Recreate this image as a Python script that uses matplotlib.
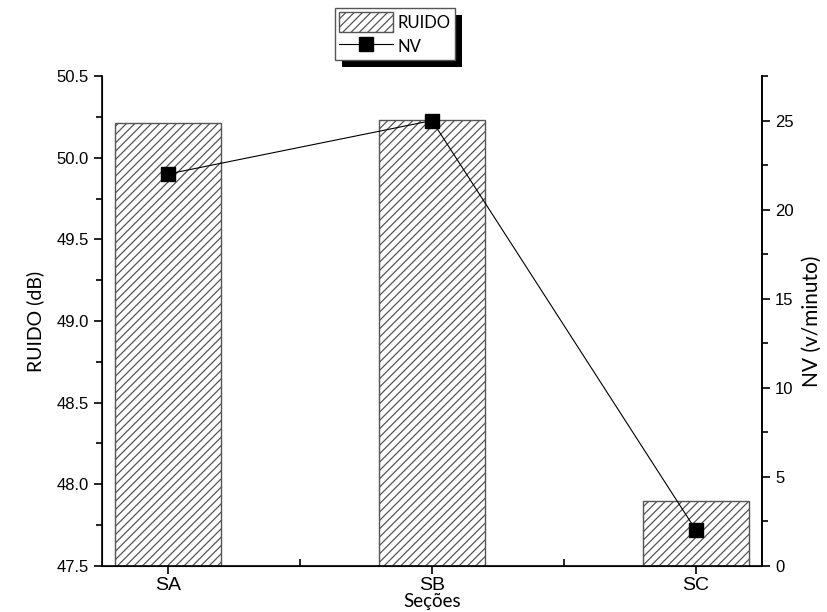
import numpy as np
import matplotlib.pyplot as plt
from matplotlib.patches import Rectangle
from matplotlib.lines import Line2D
from matplotlib.ticker import MultipleLocator

# data
secoes = ["SA", "SB", "SC"]
ruido = [50.21, 50.23, 47.90]
nv = [22, 25, 2]

plt.rcParams['hatch.linewidth'] = 0.9

fig = plt.figure(figsize=(8.27, 6.12), dpi=100)
ax = fig.add_axes([0.1233, 0.0752, 0.7981, 0.8006])
x = np.arange(len(secoes))

bars = ax.bar(x, ruido, width=0.4, bottom=0, color='white', edgecolor='#555555',
              hatch='////', linewidth=1.0)
ax.set_ylim(47.5, 50.5)
ax.set_xlim(-0.25, 2.25)
ax.set_xticks(x)
ax.set_xticklabels(secoes, fontsize=14, family='Liberation Sans')
ax.xaxis.set_minor_locator(MultipleLocator(0.5))
ax.yaxis.set_major_locator(MultipleLocator(0.5))
ax.yaxis.set_minor_locator(MultipleLocator(0.25))
ax.tick_params(axis='y', which='major', labelsize=12, length=6, width=1.2)
ax.tick_params(axis='y', which='minor', length=4, width=1.2)
ax.tick_params(axis='x', which='major', length=6, width=1.2, pad=2)
ax.tick_params(axis='x', which='minor', direction='in', length=5, width=1.2)
for lab in ax.get_yticklabels():
    lab.set_family('Liberation Sans')
ax.set_ylabel("RUIDO (dB)", fontsize=14, family='Lato', labelpad=9)
ax.set_xlabel("Seções", fontsize=13.5, family='Lato', labelpad=-1)
ax.spines['top'].set_visible(False)
for s in ['left', 'bottom', 'right']:
    ax.spines[s].set_linewidth(1.2)

ax2 = ax.twinx()
ax2.plot(x, nv, color='black', linewidth=0.8, marker='s', markersize=9.5)
ax2.set_ylim(0, 27.5)
ax2.yaxis.set_major_locator(MultipleLocator(5))
ax2.yaxis.set_minor_locator(MultipleLocator(2.5))
ax2.tick_params(axis='y', which='major', labelsize=12, length=6, width=1.2)
ax2.tick_params(axis='y', which='minor', length=4, width=1.2)
for lab in ax2.get_yticklabels():
    lab.set_family('Liberation Sans')
ax2.set_ylabel("NV (v/minuto)", fontsize=15, family='Lato', labelpad=6)
ax2.spines['top'].set_visible(False)
ax2.spines['right'].set_linewidth(1.2)

handles = [Rectangle((0, 0), 1, 1, facecolor='white', edgecolor='#555555', hatch='////'),
           Line2D([], [], color='black', linewidth=0.8, marker='s', markersize=9.5)]
leg = fig.legend(handles, ["RUIDO", "NV"], loc='upper center',
                 bbox_to_anchor=(0.4775, 0.992), handlelength=3.2,
                 handleheight=1.45, frameon=True, fancybox=False, edgecolor='#555555',
                 framealpha=1, borderpad=0.25, labelspacing=0.25, handletextpad=0.3,
                 borderaxespad=0.2, prop={'family': 'Lato', 'size': 12})
leg.get_frame().set_linewidth(1.0)

fig.canvas.draw()
bb = leg.get_window_extent().transformed(fig.transFigure.inverted())
dx, dy = 7 / 827, 7 / 612
fig.patches.append(Rectangle((bb.x0 + dx, bb.y0 - dy), bb.width, bb.height,
                             transform=fig.transFigure, facecolor='black',
                             edgecolor='none', zorder=leg.get_zorder() - 0.1))

fig.savefig("out.png", dpi=100)
